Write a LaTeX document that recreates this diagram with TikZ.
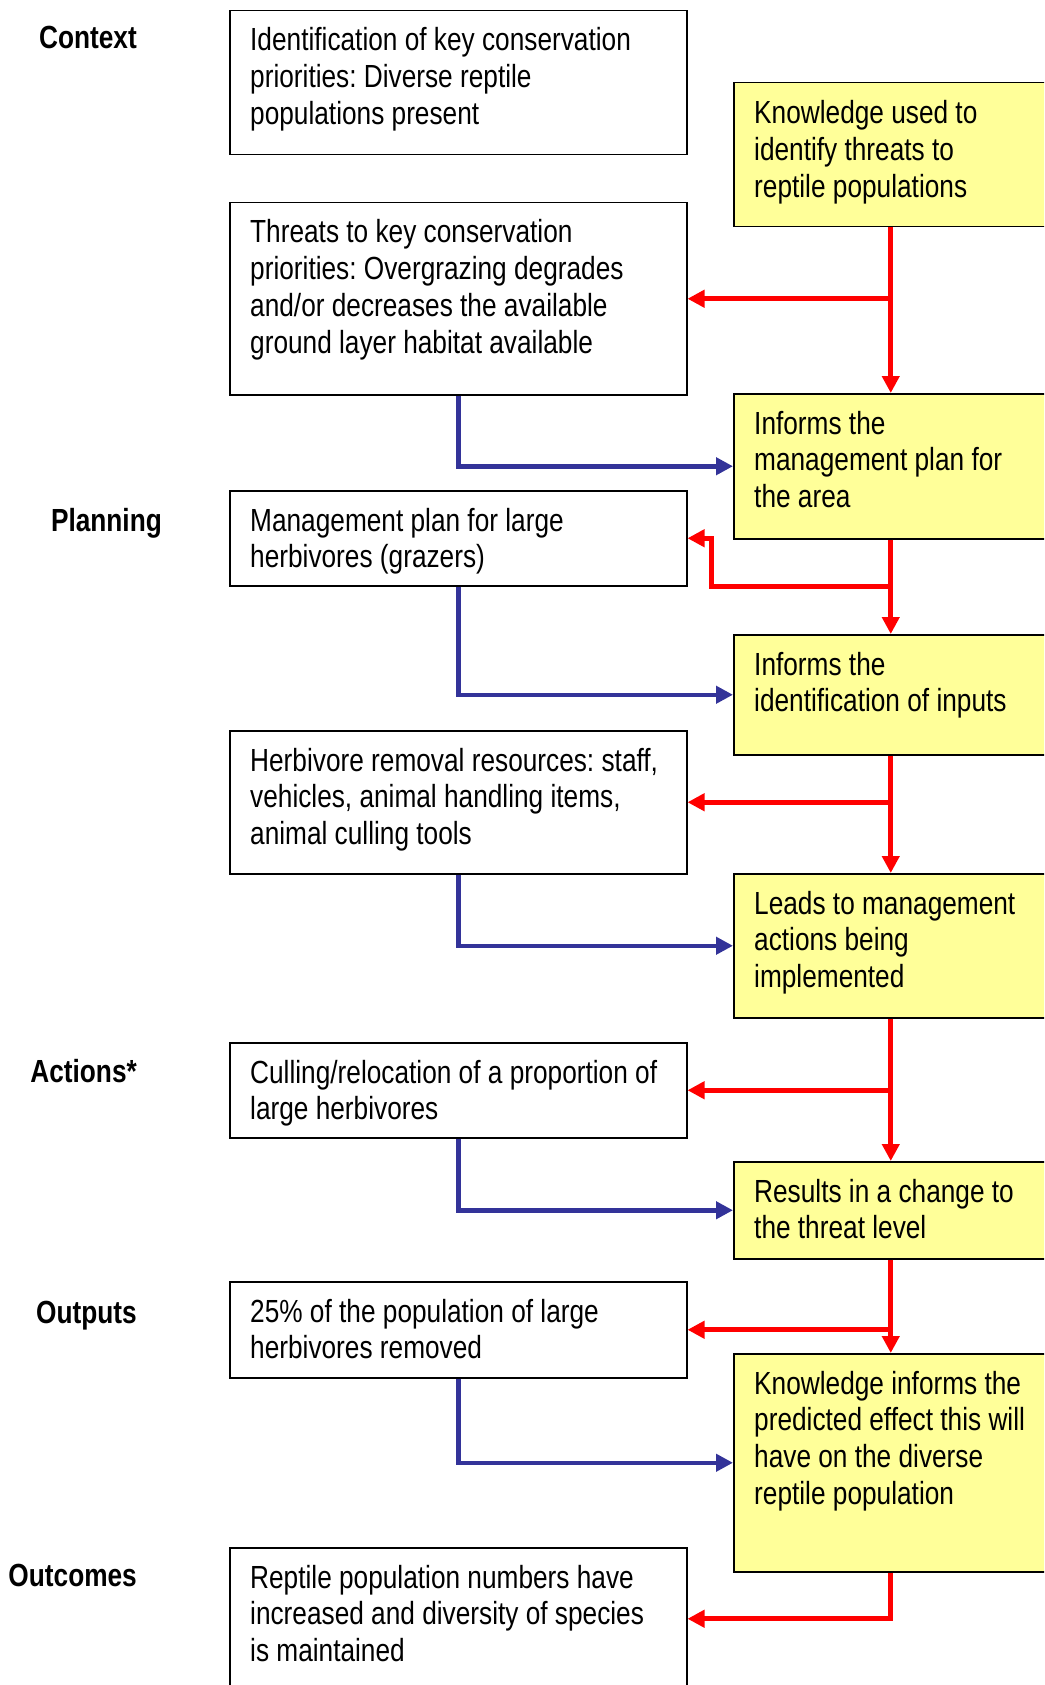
\documentclass[tikz,border=0pt]{standalone}
\usepackage{fontspec}
\setmainfont[FakeStretch=0.82]{Liberation Sans}
\usetikzlibrary{arrows.meta,calc}
\definecolor{boxyellow}{HTML}{FFFF99}
\definecolor{flowred}{HTML}{FF0000}
\definecolor{flowblue}{HTML}{333399}
\newcommand\flowtext[1]{\parbox[t]{450pt}{\raggedright\frenchspacing #1}}

\begin{document}
\begin{tikzpicture}[x=1pt,y=-1pt,
  plainbox/.style={draw=black,line width=1.5pt,fill=white,minimum width=457pt,inner sep=0pt,anchor=north west},
  notebox/.style={draw=black,line width=1.5pt,fill=boxyellow,minimum width=314pt,inner sep=0pt,anchor=north west},
  body/.style={anchor=base west,inner sep=0pt,font=\fontsize{32}{36.7}\selectfont},
  stage/.style={anchor=base east,inner sep=0pt,font=\fontsize{32}{36.7}\selectfont\bfseries},
  redflow/.style={draw=flowred,line width=5pt,-{Triangle[length=17pt,width=17pt]}},
  blueflow/.style={draw=flowblue,line width=4.5pt,-{Triangle[length=17pt,width=17pt]}},
]
\useasboundingbox (0,0) rectangle (1044,1685);
\clip (0,0) rectangle (1044,1685);

% stage labels
\node[stage] (sContext)  at (137,49)   {Context};
\node[stage] (sPlanning) at (162,531)  {Planning};
\node[stage] (sActions)  at (137,1082) {Actions*};
\node[stage] (sOutputs)  at (137,1323) {Outputs};
\node[stage] (sOutcomes) at (137,1586) {Outcomes};

% left column: plan elements
\node[plainbox,minimum height=144pt] (L1) at (229,10)   {};
\node[plainbox,minimum height=192pt] (L2) at (229,202)  {};
\node[plainbox,minimum height=95pt]  (L3) at (229,490)  {};
\node[plainbox,minimum height=143pt] (L4) at (229,730)  {};
\node[plainbox,minimum height=95pt]  (L5) at (229,1042) {};
\node[plainbox,minimum height=96pt]  (L6) at (229,1281) {};
\node[plainbox,minimum height=142pt] (L7) at (229,1547) {};

% right column: how knowledge is used
\node[notebox,minimum height=144pt] (Y1) at (733,82)   {};
\node[notebox,minimum height=145pt] (Y2) at (733,393)  {};
\node[notebox,minimum height=120pt] (Y3) at (733,634)  {};
\node[notebox,minimum height=144pt] (Y4) at (733,873)  {};
\node[notebox,minimum height=97pt]  (Y5) at (733,1161) {};
\node[notebox,minimum height=218pt] (Y6) at (733,1353) {};

% box texts
\node[body] (tL1) at (250,51)   {\flowtext{Identification of key conservation\\priorities: Diverse reptile\\populations present}};
\node[body] (tL2) at (250,243)  {\flowtext{Threats to key conservation\\priorities: Overgrazing degrades\\and/or decreases the available\\ground layer habitat available}};
\node[body] (tL3) at (250,531)  {\flowtext{Management plan for large\\herbivores (grazers)}};
\node[body] (tL4) at (250,771)  {\flowtext{Herbivore removal resources: staff,\\vehicles, animal handling items,\\animal culling tools}};
\node[body] (tL5) at (250,1083) {\flowtext{Culling/relocation of a proportion of\\large herbivores}};
\node[body] (tL6) at (250,1322) {\flowtext{25\% of the population of large\\herbivores removed}};
\node[body] (tL7) at (250,1588) {\flowtext{Reptile population numbers have\\increased and diversity of species\\is maintained}};

\node[body] (tY1) at (754,124)  {\flowtext{Knowledge used to\\identify threats to\\reptile populations}};
\node[body] (tY2) at (754,434)  {\flowtext{Informs the\\management plan for\\the area}};
\node[body] (tY3) at (754,675)  {\flowtext{Informs the\\identification of inputs}};
\node[body] (tY4) at (754,914)  {\flowtext{Leads to management\\actions being\\implemented}};
\node[body] (tY5) at (754,1202) {\flowtext{Results in a change to\\the threat level}};
\node[body] (tY6) at (754,1394) {\flowtext{Knowledge informs the\\predicted effect this will\\have on the diverse\\reptile population}};

% blue: plan element feeds the next knowledge step
\draw[blueflow] (L2.south) |- (Y2.west);
\draw[blueflow] (L3.south) |- (Y3.west);
\draw[blueflow] (L4.south) |- (Y4.west);
\draw[blueflow] (L5.south) |- (Y5.west);
\draw[blueflow] (L6.south) |- (Y6.west);

% red: knowledge chain and its feedback to the plan
\draw[redflow] (Y1.south) -- (Y2.north);
\draw[redflow] (Y1.south |- L2.east) -- (L2.east);

\draw[redflow] (Y2.south) -- (Y3.north);
\coordinate (k2) at ($(Y2.south)!0.5!(Y3.north)$);
\coordinate (k2b) at ($(k2 -| L3.east)+(24,0)$);
\draw[redflow] (k2) -- (k2b) |- (L3.east);

\draw[redflow] (Y3.south) -- (Y4.north);
\draw[redflow] (Y3.south |- L4.east) -- (L4.east);

\draw[redflow] (Y4.south) -- (Y5.north);
\draw[redflow] (Y4.south |- L5.east) -- (L5.east);

\draw[redflow] (Y5.south) -- (Y6.north);
\draw[redflow] (Y5.south |- L6.east) -- (L6.east);

\draw[redflow] (Y6.south) |- (L7.east);
\end{tikzpicture}
\end{document}
